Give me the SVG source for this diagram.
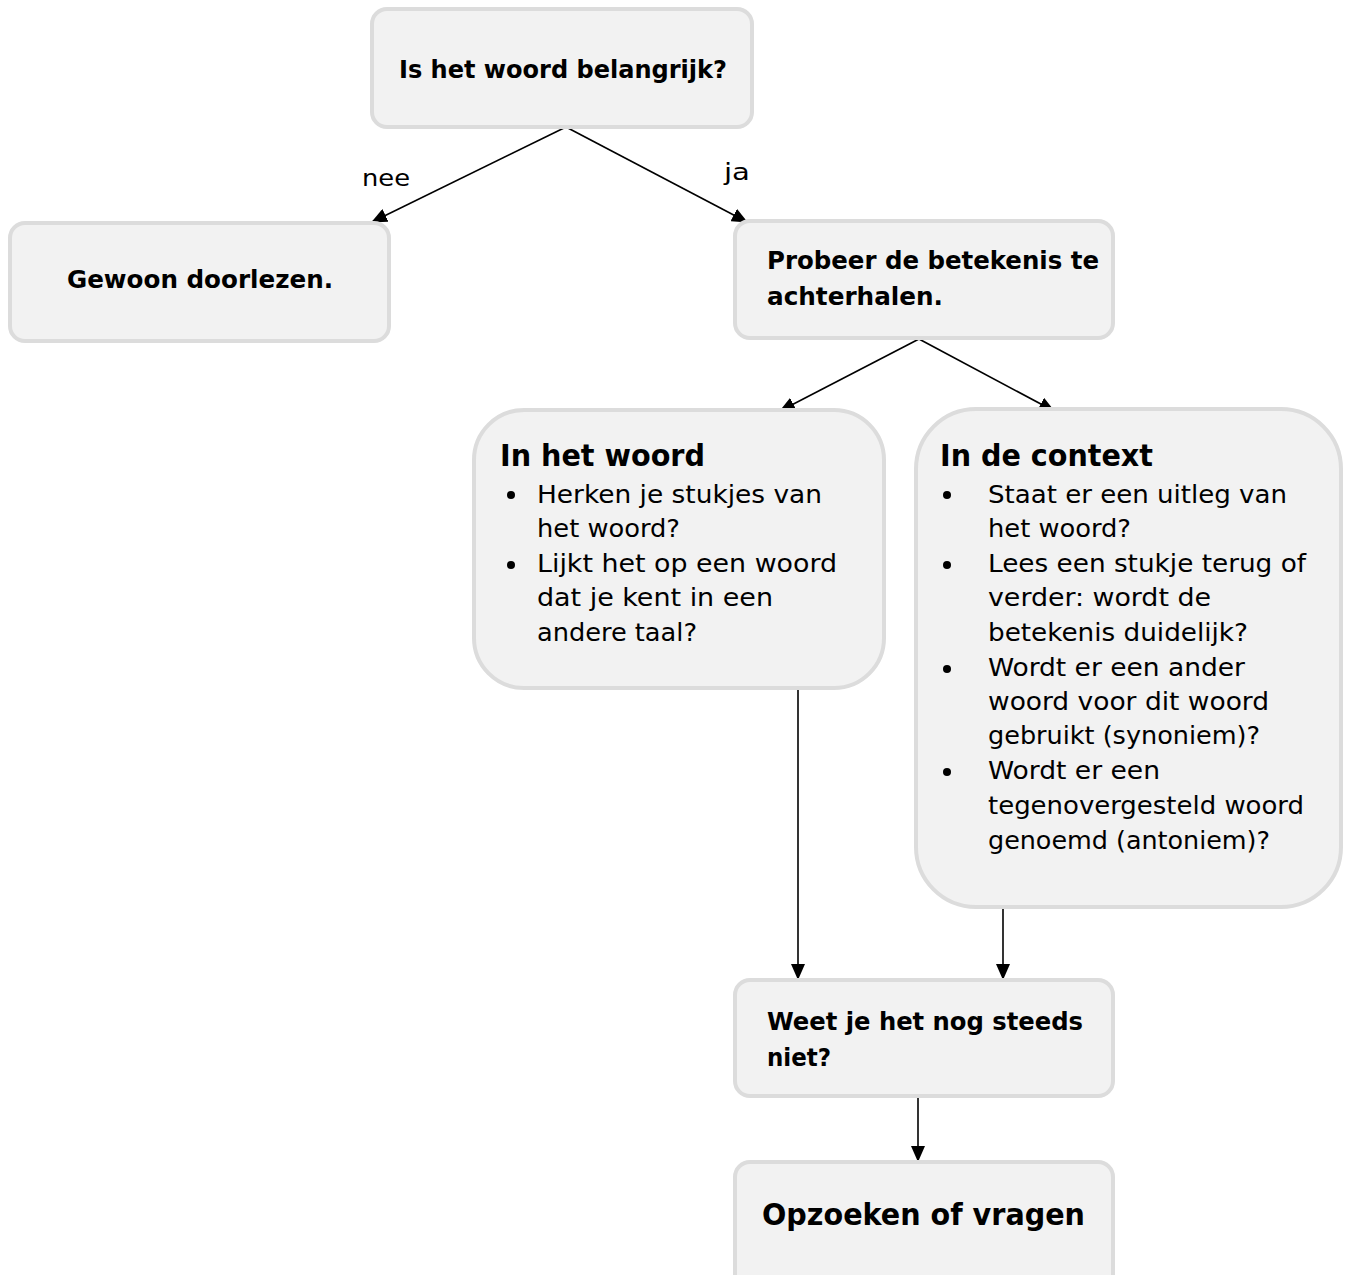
<svg xmlns="http://www.w3.org/2000/svg" width="1347" height="1275" viewBox="0 0 1347 1275">
<style>
.box{fill:#f2f2f2;stroke:#dcdcdc;stroke-width:4}
text{font-family:"DejaVu Sans Condensed","DejaVu Sans",sans-serif;fill:#000}
.b{font-weight:bold;font-size:24px}
.t{font-weight:bold;font-size:30px}
.n{font-size:25px}
.lbl{font-size:23px}
.c{stroke:#000;stroke-width:1.6;fill:none;marker-end:url(#ah)}
</style>
<defs>
<marker id="ah" viewBox="0 0 16 14" refX="15" refY="7" markerWidth="16" markerHeight="14" markerUnits="userSpaceOnUse" orient="auto">
<path d="M0,0 L16,7 L0,14 z" fill="#000"/>
</marker>
</defs>
<g id="connectors">
<line class="c" x1="566" y1="127" x2="372" y2="222"/>
<line class="c" x1="566" y1="127" x2="747" y2="222"/>
<line class="c" x1="919" y1="339" x2="780" y2="411"/>
<line class="c" x1="919" y1="339" x2="1054" y2="411"/>
<line class="c" x1="798" y1="688" x2="798" y2="979"/>
<line class="c" x1="1003" y1="907" x2="1003" y2="979"/>
<line class="c" x1="918" y1="1097" x2="918" y2="1161"/>
<text class="lbl" x="362" y="186" textLength="48" lengthAdjust="spacingAndGlyphs">nee</text>
<text class="lbl" x="724" y="180" textLength="26" lengthAdjust="spacingAndGlyphs">ja</text>
</g>
<g id="n1">
<rect class="box" x="372" y="9" width="380" height="118" rx="15"/>
<text class="b" x="399" y="78" textLength="328" lengthAdjust="spacingAndGlyphs">Is het woord belangrijk?</text>
</g>
<g id="n2">
<rect class="box" x="10" y="223" width="379" height="118" rx="15"/>
<text class="b" x="67" y="288" textLength="266" lengthAdjust="spacingAndGlyphs">Gewoon doorlezen.</text>
</g>
<g id="n3">
<rect class="box" x="735" y="221" width="378" height="117" rx="15"/>
<text class="b" x="767" y="269" textLength="332" lengthAdjust="spacingAndGlyphs">Probeer de betekenis te</text>
<text class="b" x="767" y="305" textLength="176" lengthAdjust="spacingAndGlyphs">achterhalen.</text>
</g>
<g id="n4">
<rect class="box" x="474" y="410" width="410" height="278" rx="50"/>
<text class="t" x="500" y="466" textLength="205" lengthAdjust="spacingAndGlyphs">In het woord</text>
<circle cx="511" cy="495" r="4"/>
<circle cx="511" cy="565" r="4"/>
<text class="n" x="537" y="503" textLength="285" lengthAdjust="spacingAndGlyphs">Herken je stukjes van</text>
<text class="n" x="537" y="537" textLength="143" lengthAdjust="spacingAndGlyphs">het woord?</text>
<text class="n" x="537" y="572" textLength="300" lengthAdjust="spacingAndGlyphs">Lijkt het op een woord</text>
<text class="n" x="537" y="606" textLength="236" lengthAdjust="spacingAndGlyphs">dat je kent in een</text>
<text class="n" x="537" y="641" textLength="160" lengthAdjust="spacingAndGlyphs">andere taal?</text>
</g>
<g id="n5">
<rect class="box" x="916" y="409" width="425" height="498" rx="60"/>
<text class="t" x="940" y="466" textLength="213" lengthAdjust="spacingAndGlyphs">In de context</text>
<circle cx="947" cy="495" r="4"/>
<circle cx="947" cy="565" r="4"/>
<circle cx="947" cy="669" r="4"/>
<circle cx="947" cy="772" r="4"/>
<text class="n" x="988" y="503" textLength="299" lengthAdjust="spacingAndGlyphs">Staat er een uitleg van</text>
<text class="n" x="988" y="537" textLength="143" lengthAdjust="spacingAndGlyphs">het woord?</text>
<text class="n" x="988" y="572" textLength="318" lengthAdjust="spacingAndGlyphs">Lees een stukje terug of</text>
<text class="n" x="988" y="606" textLength="223" lengthAdjust="spacingAndGlyphs">verder: wordt de</text>
<text class="n" x="988" y="641" textLength="260" lengthAdjust="spacingAndGlyphs">betekenis duidelijk?</text>
<text class="n" x="988" y="676" textLength="257" lengthAdjust="spacingAndGlyphs">Wordt er een ander</text>
<text class="n" x="988" y="710" textLength="281" lengthAdjust="spacingAndGlyphs">woord voor dit woord</text>
<text class="n" x="988" y="744" textLength="272" lengthAdjust="spacingAndGlyphs">gebruikt (synoniem)?</text>
<text class="n" x="988" y="779" textLength="172" lengthAdjust="spacingAndGlyphs">Wordt er een</text>
<text class="n" x="988" y="814" textLength="316" lengthAdjust="spacingAndGlyphs">tegenovergesteld woord</text>
<text class="n" x="988" y="849" textLength="282" lengthAdjust="spacingAndGlyphs">genoemd (antoniem)?</text>
</g>
<g id="n6">
<rect class="box" x="735" y="980" width="378" height="116" rx="15"/>
<text class="b" x="767" y="1030" textLength="316" lengthAdjust="spacingAndGlyphs">Weet je het nog steeds</text>
<text class="b" x="767" y="1066" textLength="64" lengthAdjust="spacingAndGlyphs">niet?</text>
</g>
<g id="n7">
<rect class="box" x="735" y="1162" width="378" height="140" rx="15"/>
<text class="t" x="762" y="1225" textLength="323" lengthAdjust="spacingAndGlyphs">Opzoeken of vragen</text>
</g>
</svg>
